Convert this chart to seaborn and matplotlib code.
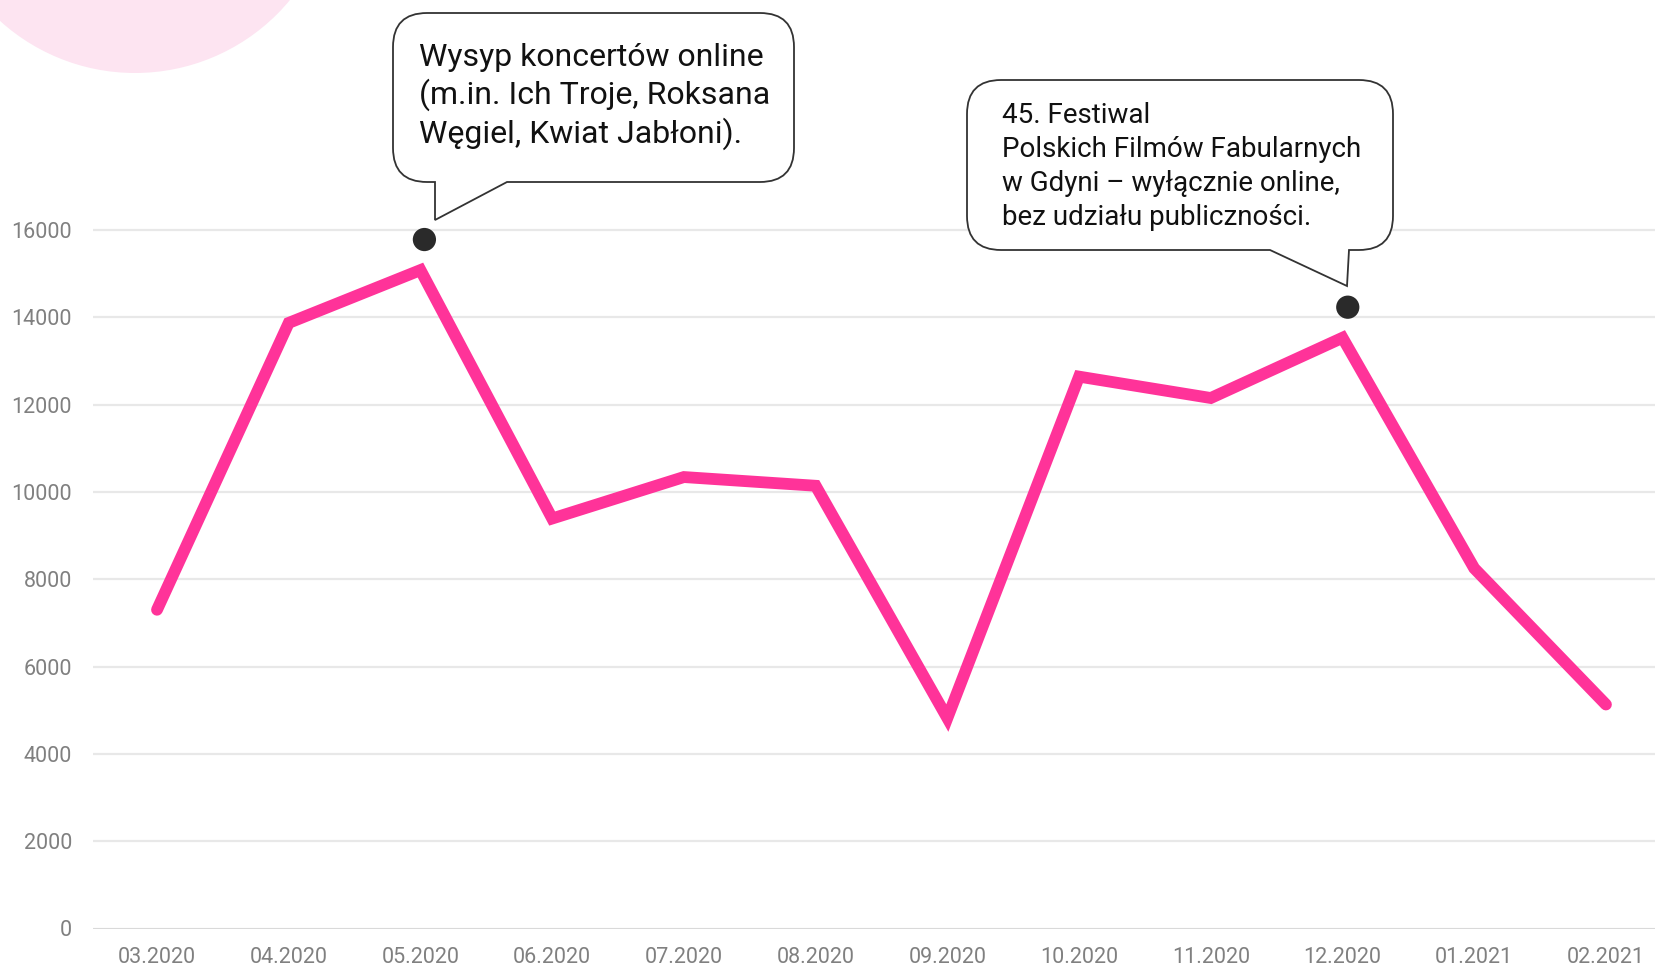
import numpy as np
import pandas as pd
import matplotlib.pyplot as plt
import seaborn as sns
from matplotlib.path import Path
from matplotlib.patches import PathPatch, Ellipse

months = ["03.2020", "04.2020", "05.2020", "06.2020", "07.2020", "08.2020",
          "09.2020", "10.2020", "11.2020", "12.2020", "01.2021", "02.2021"]
values = [7300, 13870, 15080, 9390, 10340, 10140, 4820, 12640, 12150, 13530, 8250, 5130]

# markers placed above two peaks
marker_pos = [2.03, 9.04]
marker_val = [15780, 14230]

note1 = "Wysyp koncertów online\n(m.in. Ich Troje, Roksana\nWęgiel, Kwiat Jabłoni)."
note2 = "45. Festiwal\nPolskich Filmów Fabularnych\nw Gdyni – wyłącznie online,\nbez udziału publiczności."

sns.set_style("white")
plt.rcParams['font.family'] = ['Roboto', 'DejaVu Sans']

W, H = 1656, 965
fig = plt.figure(figsize=(W / 100, H / 100), dpi=100)


def px(x, y):
    return (x / W, 1 - y / H)


# pink circle decoration in top-left corner
fig.patches.append(Ellipse(px(135, -128), 2 * 201 / W, 2 * 201 / H,
                           transform=fig.transFigure, facecolor="#fde4f1",
                           edgecolor="none", zorder=0))

ax = fig.add_axes([93 / W, 36.5 / H, 1 - 93 / W, 1 - 36.5 / H])
ax.patch.set_alpha(0)

df = pd.DataFrame({"idx": np.arange(len(months)), "val": values})
sns.lineplot(data=df, x="idx", y="val", ax=ax, color="#ff3399", linewidth=8.5,
             solid_capstyle="round", solid_joinstyle="miter", zorder=3)
sns.scatterplot(x=marker_pos, y=marker_val, ax=ax, color="#2a2a2a", s=280,
                edgecolor="none", zorder=4)

ax.set_xlim(-0.486, 11.38)
ax.set_ylim(0, 21266)
ax.set_yticks(range(0, 16001, 2000))
ax.set_xticks(range(len(months)))
ax.set_xticklabels(months)
ax.set_xlabel("")
ax.set_ylabel("")
for s in ax.spines.values():
    s.set_visible(False)
ax.grid(axis="y", color="#e8e8e8", linewidth=1.6)
ax.axhline(0, color="#d8d8d8", linewidth=2, zorder=1)
ax.tick_params(axis="both", length=0, labelsize=15.5, labelcolor="#808080")
ax.tick_params(axis="y", pad=15)
ax.tick_params(axis="x", pad=13)


def bubble(x0, y0, x1, y1, r, tail):
    pts = [(x0 + r, y0), (x1 - r, y0), (x1, y0), (x1, y0 + r), (x1, y1 - r),
           (x1, y1), (x1 - r, y1)]
    codes = [Path.MOVETO, Path.LINETO, Path.CURVE3, Path.CURVE3, Path.LINETO,
             Path.CURVE3, Path.CURVE3]
    for p in tail:
        pts.append(p)
        codes.append(Path.LINETO)
    pts += [(x0 + r, y1), (x0, y1), (x0, y1 - r), (x0, y0 + r), (x0, y0),
            (x0 + r, y0), (x0 + r, y0)]
    codes += [Path.LINETO, Path.CURVE3, Path.CURVE3, Path.LINETO, Path.CURVE3,
              Path.CURVE3, Path.CLOSEPOLY]
    path = Path([px(*p) for p in pts], codes)
    fig.patches.append(PathPatch(path, transform=fig.transFigure, facecolor="white",
                                 edgecolor="#333333", linewidth=1.3, zorder=5))


bubble(393, 13, 794, 182, 34, [(507, 182), (435, 220), (435, 182)])
bubble(967, 80, 1393, 250, 34, [(1349, 250), (1347, 286), (1270, 250)])

fig.text(*px(419, 43), note1, fontsize=23, va="top", ha="left", color="#111111",
         linespacing=1.25, zorder=6)
fig.text(*px(1002, 102), note2, fontsize=20, va="top", ha="left", color="#111111",
         linespacing=1.33, zorder=6)

fig.savefig("out.png", dpi=100)
